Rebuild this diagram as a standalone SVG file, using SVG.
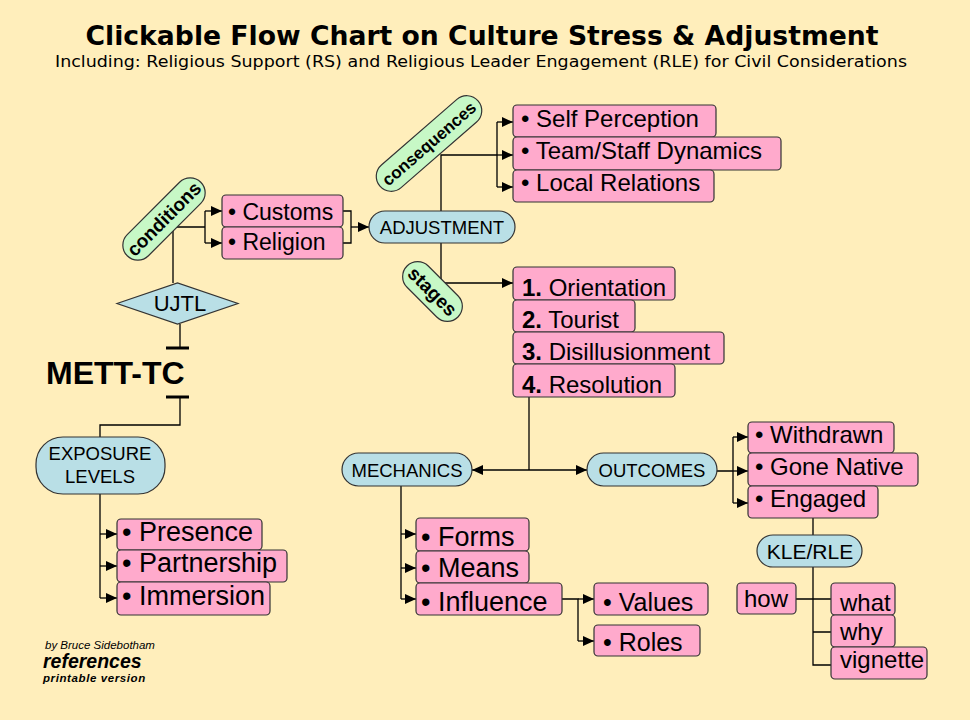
<svg xmlns="http://www.w3.org/2000/svg" width="970" height="720" viewBox="0 0 970 720">
<defs>
<marker id="ah" markerUnits="userSpaceOnUse" markerWidth="11" markerHeight="10" refX="11" refY="5" orient="auto">
<path d="M0,0 L11,5 L0,10 z" fill="#000"/>
</marker>
<style>
.pk{fill:#FFAACC;stroke:#333;stroke-width:1.2}
.bl{fill:#B9DFE6;stroke:#333;stroke-width:1.2}
.gr{fill:#C7F8C6;stroke:#333;stroke-width:1.2}
.t{font-family:"Liberation Sans",Arial,sans-serif;fill:#000}
.t24{font-size:24px}
.t27{font-size:27px}
.pl{font-family:"Liberation Sans",Arial,sans-serif;font-size:18.5px;text-anchor:middle}
.gl{font-family:"Liberation Sans",Arial,sans-serif;font-size:18px;font-weight:bold;text-anchor:middle}
.num{font-weight:bold}
.c{fill:none;stroke:#000;stroke-width:1.3}
.a{marker-end:url(#ah)}
</style>
</defs>
<rect width="970" height="720" fill="#FFEEBB"/>

<text x="482" y="45" font-family="'DejaVu Sans',Verdana,sans-serif" font-weight="bold" font-size="26" text-anchor="middle" textLength="793" lengthAdjust="spacingAndGlyphs">Clickable Flow Chart on Culture Stress &amp; Adjustment</text>
<text x="481" y="67" font-family="'DejaVu Sans',Verdana,sans-serif" font-size="15" text-anchor="middle" textLength="852" lengthAdjust="spacingAndGlyphs">Including: Religious Support (RS) and Religious Leader Engagement (RLE) for Civil Considerations</text>

<g id="connectors">
<path class="c" d="M173,227 H205 M205,211 V243 M173,227 V283"/>
<path class="c a" d="M205,211 H222"/>
<path class="c a" d="M205,243 H222"/>
<path class="c" d="M343,211 H351 V243 H343"/>
<path class="c a" d="M351,227 H369"/>
<path class="c" d="M441,211 V155 H497 M497,122 V187"/>
<path class="c a" d="M497,122 H513"/>
<path class="c a" d="M497,155 H513"/>
<path class="c a" d="M497,187 H513"/>
<path class="c a" d="M441,243 V283 H513"/>
<path class="c" d="M529,397 V470"/>
<path class="c a" d="M529,470 H472"/>
<path class="c a" d="M529,470 H587"/>
<path class="c" d="M717,471 H733 M733,437 V503"/>
<path class="c a" d="M733,437 H748"/>
<path class="c a" d="M733,471 H748"/>
<path class="c a" d="M733,503 H748"/>
<path class="c" d="M813,518 V535 M813,567 V665 H831 M796,599 H831 M813,632 H831"/>
<path class="c" d="M401,486 V599"/>
<path class="c a" d="M401,534 H416"/>
<path class="c a" d="M401,568 H416"/>
<path class="c a" d="M401,599 H416"/>
<path class="c" d="M562,599 H578 V641"/>
<path class="c a" d="M578,599 H594"/>
<path class="c a" d="M578,641 H594"/>
<path class="c" d="M180,324 V348 M180,397 V425 H100 V437"/>
<path d="M166,348 H189 M166,397 H189" fill="none" stroke="#000" stroke-width="3"/>
<path class="c" d="M100,494 V598"/>
<path class="c a" d="M100,534 H117"/>
<path class="c a" d="M100,566 H117"/>
<path class="c a" d="M100,598 H117"/>
</g>

<g id="conditions">
<g transform="translate(164,219) rotate(-45)">
<rect class="gr" x="-52" y="-15" width="104" height="30" rx="15"/>
<text class="gl" x="0" y="6.5" style="font-size:19px">conditions</text>
</g>
</g>
<g id="customs"><rect class="pk" x="222" y="195" width="121" height="32" rx="4"/><text class="t" x="228" y="220" font-size="23">• Customs</text></g>
<g id="religion"><rect class="pk" x="222" y="227" width="121" height="32" rx="4"/><text class="t" x="228" y="250" font-size="23">• Religion</text></g>

<g id="ujtl">
<polygon class="bl" points="117,303.5 177.5,283 238,303.5 177.5,324"/>
<text class="t" x="180" y="311" font-size="22" text-anchor="middle">UJTL</text>
</g>
<g id="mett-tc"><text class="t" x="46" y="384" font-size="32" font-weight="bold">METT-TC</text></g>

<g id="exposure">
<rect class="bl" x="36" y="437" width="129" height="57" rx="27"/>
<text class="pl" x="100" y="460">EXPOSURE</text>
<text class="pl" x="100" y="483">LEVELS</text>
</g>
<g id="presence"><rect class="pk" x="117" y="519" width="145" height="31" rx="4"/><text class="t t27" x="122" y="541">• Presence</text></g>
<g id="partnership"><rect class="pk" x="117" y="550" width="170" height="32" rx="4"/><text class="t t27" x="122" y="572">• Partnership</text></g>
<g id="immersion"><rect class="pk" x="117" y="582" width="153" height="33" rx="4"/><text class="t t27" x="122" y="605">• Immersion</text></g>

<g id="adjustment">
<rect class="bl" x="369" y="211" width="146" height="32" rx="16"/>
<text class="pl" x="442" y="233.5">ADJUSTMENT</text>
</g>

<g id="consequences">
<g transform="translate(429,143.5) rotate(-41)">
<rect class="gr" x="-65" y="-15" width="130" height="30" rx="15"/>
<text class="gl" x="0" y="6" style="font-size:17px">consequences</text>
</g>
</g>
<g id="self-perception"><rect class="pk" x="513" y="105" width="203" height="32" rx="4"/><text class="t t24" x="521" y="127">• Self Perception</text></g>
<g id="team-staff"><rect class="pk" x="513" y="137" width="268" height="33" rx="4"/><text class="t t24" x="521" y="159">• Team/Staff Dynamics</text></g>
<g id="local-relations"><rect class="pk" x="513" y="170" width="201" height="32" rx="4"/><text class="t t24" x="521" y="191">• Local Relations</text></g>

<g id="stages">
<g transform="translate(432.5,291.5) rotate(45)">
<rect class="gr" x="-36" y="-15" width="72" height="30" rx="15"/>
<text class="gl" x="0" y="6.5" style="font-size:19px">stages</text>
</g>
</g>
<g id="orientation"><rect class="pk" x="513" y="267" width="162" height="33" rx="4"/><text class="t t24" x="522" y="296"><tspan class="num">1.</tspan> Orientation</text></g>
<g id="tourist"><rect class="pk" x="513" y="300" width="122" height="32" rx="4"/><text class="t t24" x="522" y="328"><tspan class="num">2.</tspan> Tourist</text></g>
<g id="disillusionment"><rect class="pk" x="513" y="332" width="211" height="32" rx="4"/><text class="t t24" x="522" y="360"><tspan class="num">3.</tspan> Disillusionment</text></g>
<g id="resolution"><rect class="pk" x="513" y="364" width="162" height="33" rx="4"/><text class="t t24" x="522" y="393"><tspan class="num">4.</tspan> Resolution</text></g>

<g id="mechanics">
<rect class="bl" x="342" y="453" width="130" height="33" rx="16.5"/>
<text class="pl" x="407" y="476.5">MECHANICS</text>
</g>
<g id="outcomes">
<rect class="bl" x="587" y="453" width="130" height="33" rx="16.5"/>
<text class="pl" x="652" y="476.5">OUTCOMES</text>
</g>

<g id="forms"><rect class="pk" x="416" y="518" width="113" height="33" rx="4"/><text class="t t27" x="421" y="546">• Forms</text></g>
<g id="means"><rect class="pk" x="416" y="551" width="113" height="32" rx="4"/><text class="t t27" x="421" y="577">• Means</text></g>
<g id="influence"><rect class="pk" x="416" y="583" width="146" height="32" rx="4"/><text class="t t27" x="421" y="611">• Influence</text></g>
<g id="values"><rect class="pk" x="594" y="583" width="114" height="32" rx="4"/><text class="t" x="603" y="611" font-size="25">• Values</text></g>
<g id="roles"><rect class="pk" x="594" y="625" width="106" height="31" rx="4"/><text class="t" x="603" y="651" font-size="25">• Roles</text></g>

<g id="withdrawn"><rect class="pk" x="748" y="422" width="146" height="31" rx="4"/><text class="t t24" x="755" y="443">• Withdrawn</text></g>
<g id="gone-native"><rect class="pk" x="748" y="453" width="170" height="33" rx="4"/><text class="t t24" x="755" y="475">• Gone Native</text></g>
<g id="engaged"><rect class="pk" x="748" y="486" width="130" height="32" rx="4"/><text class="t t24" x="755" y="507">• Engaged</text></g>

<g id="kle-rle">
<rect class="bl" x="757" y="535" width="105" height="32" rx="16"/>
<text class="pl" x="810" y="559" style="font-size:21px">KLE/RLE</text>
</g>
<g id="how"><rect class="pk" x="737" y="583" width="59" height="31" rx="4"/><text class="t t24" x="744" y="607">how</text></g>
<g id="what"><rect class="pk" x="831" y="583" width="64" height="32" rx="4"/><text class="t t24" x="840" y="611">what</text></g>
<g id="why"><rect class="pk" x="831" y="615" width="64" height="32" rx="4"/><text class="t t24" x="840" y="640">why</text></g>
<g id="vignette"><rect class="pk" x="831" y="647" width="96" height="32" rx="4"/><text class="t t24" x="840" y="668">vignette</text></g>

<g id="credits">
<text class="t" x="45" y="649" font-size="11.5" font-style="italic">by Bruce Sidebotham</text>
<text class="t" x="43" y="668" font-size="19.5" font-style="italic" font-weight="bold">references</text>
<text class="t" x="43" y="682" font-size="11.5" font-style="italic" font-weight="bold" letter-spacing="0.6">printable version</text>
</g>
</svg>
